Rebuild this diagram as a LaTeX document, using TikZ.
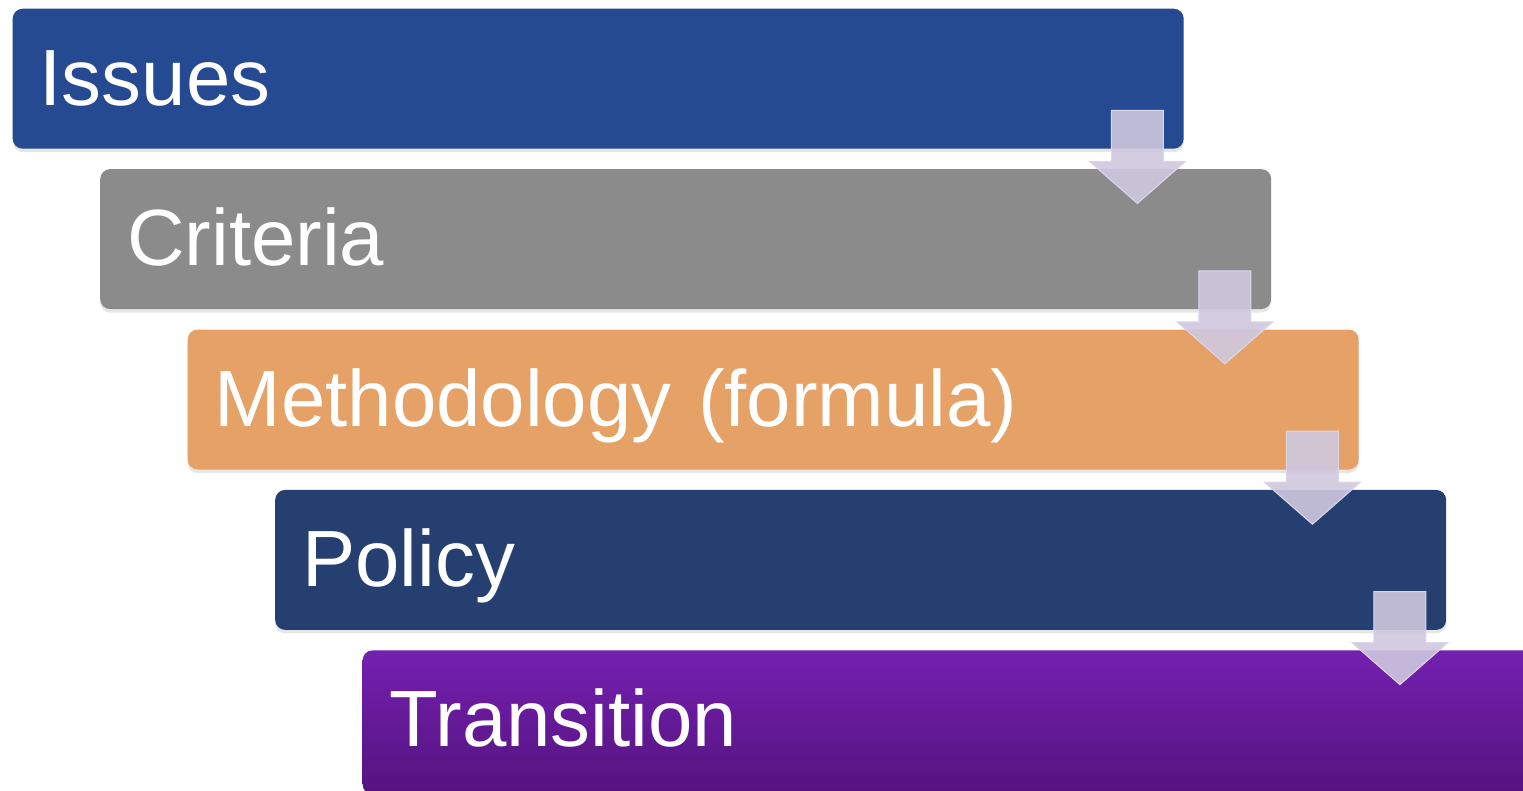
\documentclass[tikz,border=0pt]{standalone}
\usepackage{fontspec}
\setmainfont{Liberation Sans}
\usetikzlibrary{shadows}

\definecolor{issuesblue}{HTML}{254A91}
\definecolor{criteriagray}{HTML}{8B8B8B}
\definecolor{methodorange}{HTML}{E5A166}
\definecolor{policynavy}{HTML}{243F70}
\definecolor{transtop}{HTML}{7420B0}
\definecolor{transbottom}{HTML}{55137E}
\definecolor{arrowlilac}{HTML}{CFC8DF}
\definecolor{arrowedge}{HTML}{DCD7E8}

\begin{document}
\begin{tikzpicture}[
  stage/.style={rounded corners=0.1cm, minimum height=1.4cm,
    text width=11.17cm, inner xsep=0.27cm, align=left,
    text height=0.53cm, text depth=0cm, text=white,
    font=\fontsize{22.7}{27}\selectfont,
    drop shadow={opacity=0.2, shadow xshift=0cm, shadow yshift=-0.035cm}},
  next/.style={anchor=north west, xshift=0.875cm, yshift=-0.19cm},
  flowarrow/.style={fill=arrowlilac, fill opacity=0.9, draw=arrowedge, line width=0.3pt}]
  \useasboundingbox (0,0) rectangle (15.23,7.91);

  % the five stages, each one step right and down
  \node (issues) [stage, fill=issuesblue, anchor=north west] at (0.12,7.83) {Issues};
  \node (criteria) [stage, fill=criteriagray, next] at (issues.south west) {Criteria};
  \node (method) [stage, fill=methodorange, next] at (criteria.south west) {Methodology (formula)};
  \node (policy) [stage, fill=policynavy, next] at (method.south west) {Policy};
  % last one runs off the page
  \node (trans) [stage, top color=transtop, bottom color=transbottom, next,
    minimum height=1.44cm, text height=0.49cm] at (policy.south west) {Transition};

  % block arrows hanging off each stage
  \draw [flowarrow, shift={(issues.south east)}] (-0.73,0.39) -- (-0.21,0.39) -- (-0.21,-0.12) -- (0.01,-0.12) -- (-0.47,-0.54) -- (-0.95,-0.12) -- (-0.73,-0.12) -- cycle;
  \draw [flowarrow, shift={(criteria.south east)}] (-0.73,0.39) -- (-0.21,0.39) -- (-0.21,-0.12) -- (0.01,-0.12) -- (-0.47,-0.54) -- (-0.95,-0.12) -- (-0.73,-0.12) -- cycle;
  \draw [flowarrow, shift={(method.south east)}] (-0.73,0.39) -- (-0.21,0.39) -- (-0.21,-0.12) -- (0.01,-0.12) -- (-0.47,-0.54) -- (-0.95,-0.12) -- (-0.73,-0.12) -- cycle;
  \draw [flowarrow, shift={(policy.south east)}] (-0.73,0.39) -- (-0.21,0.39) -- (-0.21,-0.12) -- (0.01,-0.12) -- (-0.47,-0.54) -- (-0.95,-0.12) -- (-0.73,-0.12) -- cycle;
\end{tikzpicture}
\end{document}
